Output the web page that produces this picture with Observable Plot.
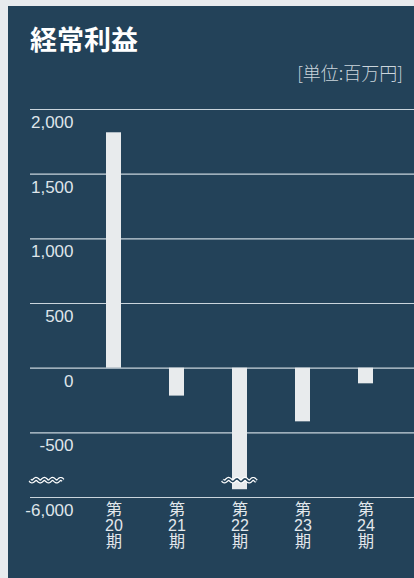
<!DOCTYPE html>
<html><head><meta charset="utf-8">
<script src="https://cdn.jsdelivr.net/npm/d3@7"></script>
<script src="https://cdn.jsdelivr.net/npm/@observablehq/plot@0.6"></script>
<style>
html,body{margin:0;padding:0;background:#e8ebee;width:414px;height:578px;overflow:hidden;position:relative;}
#panel{position:absolute;left:8px;top:6px;width:406px;height:572px;background:#234259;}
#title{position:absolute;left:22px;top:19px;margin:0;font-family:"Noto Sans CJK JP",sans-serif;font-weight:700;font-size:27px;line-height:1;color:#ffffff;}
#unit{position:absolute;right:11px;top:57px;font-family:"Noto Sans CJK JP",sans-serif;font-weight:300;font-size:18px;line-height:1;color:#cbd5dc;}
#chart{position:absolute;left:0;top:100px;}
</style>
</head><body>
<div id="panel">
  <div id="title">経常利益</div>
  <div id="unit">[単位:百万円]</div>
</div>
<div id="chart"></div>
<script>
// ---- data ----
const periods = ["第20期", "第21期", "第22期", "第23期", "第24期"];
const periodNumbers = ["20", "21", "22", "23", "24"];
const values = [1820, -216, -5940, -415, -121];          // 百万円
const yTickValues = [2000, 1500, 1000, 500, 0, -500, -6000];

// ---- broken axis: values below the break are shifted up by the gap ----
const breakThreshold = -750;
const breakGap = 5000;
const toDisplay = v => v < breakThreshold ? v + breakGap : v;
const fromDisplay = d => d < breakThreshold ? d - breakGap : d;
const breakDisplay = -870;

const data = periods.map((p, i) => ({period: p, num: periodNumbers[i], value: values[i], y: toDisplay(values[i])}));
const yTicks = yTickValues.map(toDisplay);
const fmt = d3.formatLocale({decimal: ".", thousands: ",", grouping: [3], currency: ["", ""], minus: "-"}).format(",");

const panelColor = "#234259";

function waveMark(index, scales, vals, dims) {
  const g = d3.create("svg:g");
  const y0 = scales.y(breakDisplay);
  const drawWave = (x0, w) => {
    const pts = [];
    for (let t = 0; t <= w; t += 0.5) pts.push([x0 + t, y0 + 1.3 * Math.sin(2 * Math.PI * t / 8.2)]);
    const line = d3.line();
    g.append("path").attr("d", line(pts)).attr("fill", "none").attr("stroke", "#ffffff").attr("stroke-width", 4);
    g.append("path").attr("d", line(pts)).attr("fill", "none").attr("stroke", panelColor).attr("stroke-width", 1.6);
  };
  drawWave(dims.marginLeft, 33);
  const bw = typeof scales.x.bandwidth === "function" ? scales.x.bandwidth() : 15;
  for (const d of data) {
    if (d.value < breakThreshold) {
      const cx = scales.x(d.period) + bw / 2;
      drawWave(cx - 17, 34);
    }
  }
  return g.node();
}

const chart = Plot.plot({
  width: 414,
  height: 470,
  marginTop: 9,
  marginLeft: 30,
  marginRight: 0,
  marginBottom: 73,
  style: {background: "transparent", color: "#dfe5ea", fontFamily: "'Liberation Sans', Arial, sans-serif"},
  x: {domain: periods, range: [79.6, 398.4], paddingInner: 0.765, paddingOuter: 0.3825, axis: null, label: null},
  y: {domain: [toDisplay(-6000), 2000], axis: null, label: null},
  marks: [
    Plot.ruleY(yTicks, {stroke: "#c9d4dc", strokeWidth: 1.2}),
    Plot.barY(data, {x: "period", y: "y", fill: "#e8ebed"}),
    Plot.axisY(yTicks, {
      anchor: "left", tickSize: 0, tickPadding: -43, dy: 13, label: null,
      tickFormat: d => fmt(fromDisplay(d)),
      fontSize: 17, textAnchor: "end", fill: "#dfe5ea"
    }),
    Plot.axisX({
      anchor: "bottom", tickSize: 0, tickPadding: 6, label: null,
      tickFormat: p => "第\n" + data.find(d => d.period === p).num + "\n期",
      fontSize: 16, lineHeight: 1.0, lineAnchor: "top", fill: "#e3e8ec",
      fontFamily: "'Liberation Sans Narrow', 'Liberation Sans', 'Noto Sans CJK JP', sans-serif"
    }),
    waveMark
  ]
});
document.getElementById("chart").appendChild(chart);
</script>
</body></html>
